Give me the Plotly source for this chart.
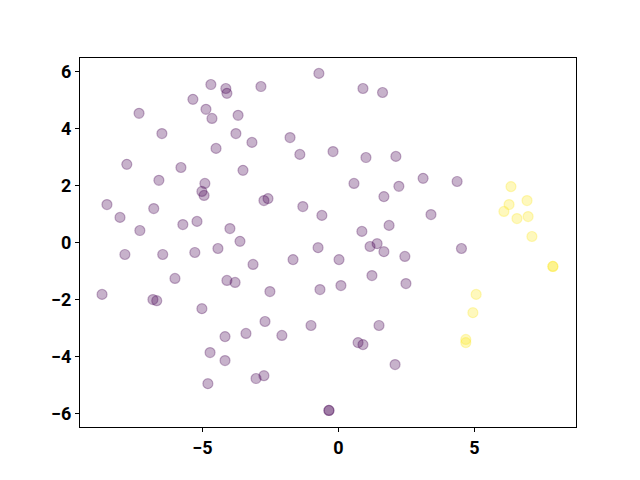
import plotly.graph_objects as go

purple_x = [-8.69, -8.51, -8.03, -7.85, -7.78, -7.33, -7.30, -6.82, -6.68, -6.79,
            -6.60, -6.49, -6.46, -6.01, -5.79, -5.72, -5.35, -5.28, -5.20, -5.02,
            -5.02, -4.94, -4.91, -4.87, -4.80, -4.72, -4.69, -4.65, -4.50, -4.43,
            -4.17, -4.17, -4.14, -4.10, -4.10, -3.99, -3.77, -3.80, -3.69, -3.62,
            -3.51, -3.40, -3.18, -3.14, -3.03, -2.85, -2.74, -2.70, -2.74, -2.59,
            -2.52, -2.08, -1.78, -1.67, -1.42, -1.31, -1.01, -0.72, -0.75, -0.68,
            -0.61, -0.35, -0.35, -0.20, 0.02, 0.09, 0.57, 0.72, 0.90, 0.86,
            0.90, 1.01, 1.16, 1.23, 1.42, 1.49, 1.62, 1.67, 1.67, 1.86,
            2.08, 2.11, 2.22, 2.44, 2.48, 3.11, 3.40, 4.36, 4.52]
purple_y = [-1.82, 1.33, 0.88, -0.42, 2.74, 4.53, 0.42, -2.00, -2.04, 1.19,
            2.18, 3.82, -0.42, -1.26, 2.63, 0.63, 5.02, -0.35, 0.74, -2.32,
            1.79, 1.65, 2.07, 4.67, -4.95, -3.86, 5.54, 4.35, 3.30, -0.21,
            -4.14, -3.30, 5.40, -1.33, 5.23, 0.49, 3.82, -1.40, 4.46, 0.04,
            2.53, -3.19, 3.51, -0.77, -4.77, 5.47, -4.67, -2.77, 1.47, 1.54,
            -1.72, -3.26, 3.68, -0.60, 3.09, 1.26, -2.91, 5.93, -0.18, -1.65,
            0.95, -5.89, -5.89, 3.19, -0.60, -1.51, 2.07, -3.51, -3.58, 0.39,
            5.40, 2.98, -0.14, -1.16, -0.04, -2.91, 5.26, 1.61, -0.32, 0.60,
            -4.28, 3.02, 1.97, -0.49, -1.44, 2.25, 0.98, 2.14, -0.21]

yellow_x = [6.34, 6.93, 6.27, 6.08, 6.56, 6.97, 7.11, 7.88, 7.88, 5.06, 4.94, 4.68, 4.68]
yellow_y = [1.96, 1.47, 1.33, 1.09, 0.84, 0.91, 0.21, -0.84, -0.84, -1.82, -2.46, -3.40, -3.51]

x_ticks = [-5, 0, 5]
y_ticks = [-6, -4, -2, 0, 2, 4, 6]

fig = go.Figure()
for xs, ys, fill, edge in [
    (purple_x, purple_y, "rgba(68,1,84,0.3)", "rgba(68,1,84,0.3)"),
    (yellow_x, yellow_y, "rgba(253,231,37,0.3)", "rgba(253,231,37,0.3)"),
]:
    fig.add_trace(go.Scatter(
        x=xs, y=ys, mode="markers",
        marker=dict(size=10, color=fill, line=dict(color=edge, width=1.2)),
        showlegend=False,
    ))

axis_common = dict(
    showline=True, linecolor="black", linewidth=1, mirror=True,
    ticks="outside", ticklen=4, tickcolor="black", tickwidth=1,
    showgrid=False, zeroline=False,
    tickfont=dict(family="Roboto", size=18, color="black", weight="bold"),
)
fig.update_xaxes(range=[-9.5, 8.73], tickvals=x_ticks, **axis_common)
fig.update_yaxes(range=[-6.47, 6.47], tickvals=y_ticks, **axis_common)
fig.update_layout(
    width=640, height=480,
    margin=dict(l=72, r=72, t=50, b=61),
    plot_bgcolor="white", paper_bgcolor="white",
)
fig.write_html("out.html")
